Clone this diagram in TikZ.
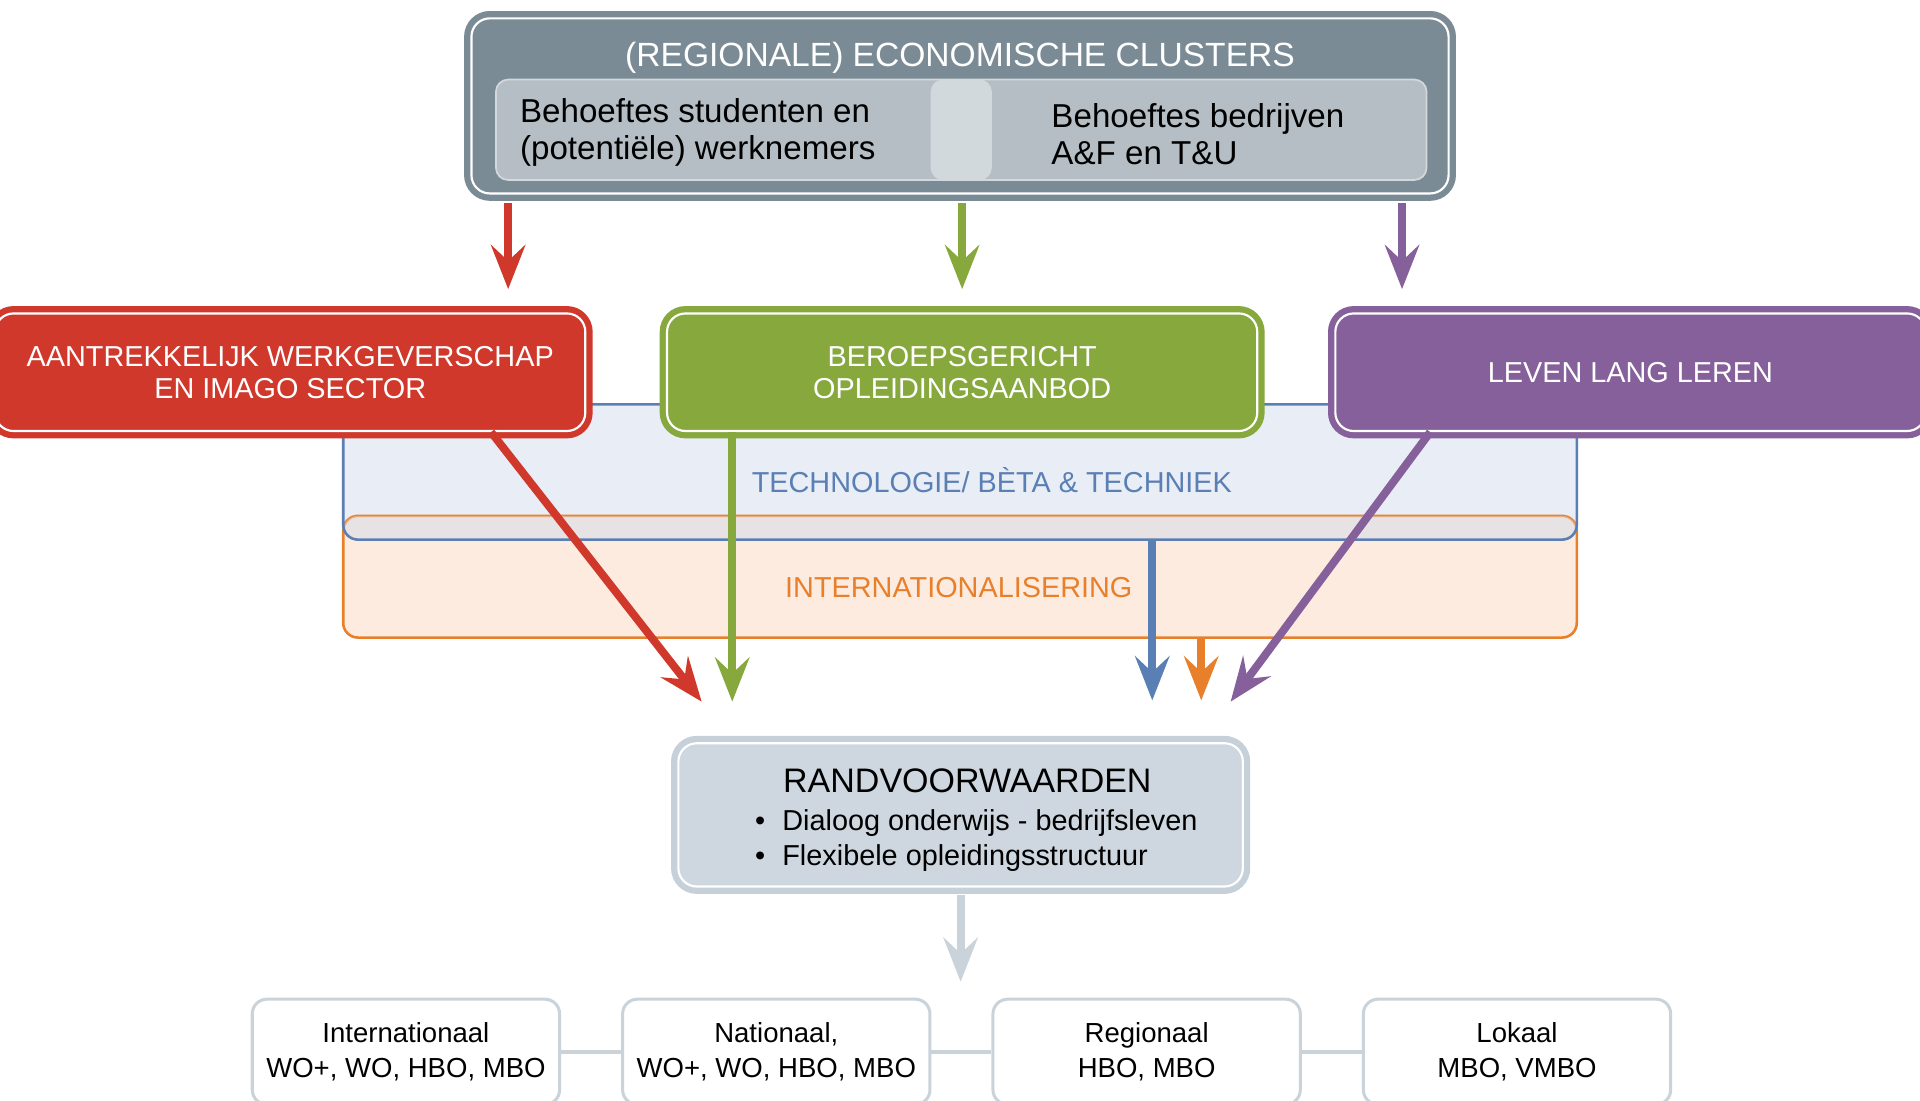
\documentclass[tikz,border=0pt]{standalone}
\usepackage{fontspec}
\setmainfont{Liberation Sans}
\usepackage{tikz}
\usetikzlibrary{shapes,arrows.meta,positioning,calc}

\definecolor{clustergrijs}{HTML}{7B8B95}
\definecolor{paneelgrijs}{HTML}{B4BEC4}
\definecolor{paneellicht}{HTML}{D2D9DD}
\definecolor{rood}{HTML}{D0382B}
\definecolor{groen}{HTML}{86A83C}
\definecolor{paars}{HTML}{86609A}
\definecolor{blauw}{HTML}{5A7FB5}
\definecolor{blauwvlak}{HTML}{E9EDF5}
\definecolor{oranje}{HTML}{E8802B}
\definecolor{oranjevlak}{HTML}{FDEBE0}
\definecolor{overlapvlak}{HTML}{E7E2E3}
\definecolor{randgrijs}{HTML}{C6D0D8}
\definecolor{randvlak}{HTML}{CED7DF}
\definecolor{lijngrijs}{HTML}{CAD3DA}

\begin{document}
\begin{tikzpicture}[
    blok/.style={fill=#1, preaction={draw=#1, line width=0.12cm}, draw=white, line width=0.5pt,
        rounded corners=0.15cm, inner sep=0pt, align=center, text=white},
    kop/.style={font=\fontsize{6.7}{7.4}\selectfont},
    band/.style={rounded corners=0.12cm, minimum width=10.06cm, inner sep=0pt},
    pijl/.style={line width=0.065cm, -{Stealth[length=0.36cm, width=0.28cm, inset=0.13cm]}},
    niveau/.style={draw=lijngrijs, line width=0.7pt, fill=white, rounded corners=0.12cm,
        minimum width=2.51cm, minimum height=0.86cm, inner sep=0pt, align=center,
        font=\fontsize{6.4}{8}\selectfont}
]
\useasboundingbox (0,0) rectangle (15.68,-8.99);

% banden achter de blokken
\node[band, fill=blauwvlak, minimum height=1.09cm] (tb) at (7.84,-3.855) {};
\node[band, fill=oranjevlak, minimum height=0.98cm] (int) at (7.84,-4.71) {};
\fill[overlapvlak, rounded corners=0.12cm] (int.north west) rectangle (tb.south east);
\draw[oranje, line width=0.6pt, rounded corners=0.12cm] (int.south west) rectangle (int.north east);
\fill[overlapvlak, opacity=0.45, rounded corners=0.12cm] (int.north west) rectangle (tb.south east);
\draw[blauw, line width=0.6pt, rounded corners=0.12cm] (tb.south west) rectangle (tb.north east);
\node[text=blauw, kop] (tbtekst) at (8.10,-3.92) {TECHNOLOGIE/ BÈTA \& TECHNIEK};
\node[text=oranje, kop] (inttekst) at (7.83,-4.80) {INTERNATIONALISERING};

% clusters
\node[blok=clustergrijs, minimum width=7.98cm, minimum height=1.43cm] (clusters) at (7.84,-0.865) {};
\node[fill=paneelgrijs, draw=paneelgrijs!60!white, rounded corners=0.1cm, inner sep=0pt,
    minimum width=7.60cm, minimum height=0.82cm] (paneel) at (7.85,-1.06) {};
\node[fill=paneellicht, rounded corners=0.1cm, inner sep=0pt,
    minimum width=0.50cm, minimum height=0.82cm] (midden) at (paneel.center) {};
\node[text=white, font=\fontsize{7.8}{9}\selectfont] (clustertitel) at (7.84,-0.47) {(REGIONALE) ECONOMISCHE CLUSTERS};
\node[anchor=west, align=left, inner sep=0pt, font=\fontsize{7.7}{8.7}\selectfont] (studenten) at (4.24,-1.08)
    {Behoeftes studenten en\\(potentiële) werknemers};
\node[anchor=west, align=left, inner sep=0pt, font=\fontsize{7.7}{8.7}\selectfont] (bedrijven) at (8.58,-1.095)
    {Behoeftes bedrijven\\A\&F en T\&U};

% thema's
\node[blok=rood, kop, minimum width=4.82cm, minimum height=0.96cm] (aw) at (2.37,-3.04)
    {AANTREKKELIJK WERKGEVERSCHAP\\EN IMAGO SECTOR};
\node[blok=groen, kop, minimum width=4.82cm, minimum height=0.96cm, right=0.65cm of aw] (bo)
    {BEROEPSGERICHT\\OPLEIDINGSAANBOD};
\node[blok=paars, kop, minimum width=4.82cm, minimum height=0.96cm, right=0.62cm of bo] (lll)
    {LEVEN LANG LEREN};

% randvoorwaarden
\node[blok=randgrijs, fill=randvlak, minimum width=4.61cm, minimum height=1.17cm] (rv) at (7.845,-6.655) {};
\node[font=\fontsize{7.9}{9}\selectfont] (rvtitel) at (7.90,-6.38) {RANDVOORWAARDEN};
\node[anchor=west, align=left, inner sep=0pt, font=\fontsize{6.7}{8.2}\selectfont] (rvlijst) at (6.16,-6.865)
    {\textbullet\hspace{0.14cm}Dialoog onderwijs - bedrijfsleven\\\textbullet\hspace{0.14cm}Flexibele opleidingsstructuur};

% niveaus
\node[niveau] (internationaal) at (3.315,-8.59) {Internationaal\\WO+, WO, HBO, MBO};
\node[niveau, right=0.49cm of internationaal] (nationaal) {Nationaal,\\WO+, WO, HBO, MBO};
\node[niveau, right=0.49cm of nationaal] (regionaal) {Regionaal\\HBO, MBO};
\node[niveau, right=0.49cm of regionaal] (lokaal) {Lokaal\\MBO, VMBO};
\draw[lijngrijs, line width=0.03cm] (internationaal) -- (nationaal);
\draw[lijngrijs, line width=0.03cm] (nationaal) -- (regionaal);
\draw[lijngrijs, line width=0.03cm] (regionaal) -- (lokaal);

% pijlen
\coordinate (xrood) at (4.15,0);
\coordinate (xpaars) at (11.45,0);
\coordinate (srood) at (4.01,0);
\coordinate (spaars) at (11.68,0);
\coordinate (prood) at (5.73,-5.73);
\coordinate (pgroen) at (5.98,-5.73);
\coordinate (pblauw) at (9.41,-5.72);
\coordinate (poranje) at (9.81,-5.72);
\coordinate (ppaars) at (10.05,-5.73);

\draw[pijl, rood, shorten <=0.07cm, shorten >=0.19cm] (clusters.south -| xrood) -- (aw.north -| xrood);
\draw[pijl, groen, shorten <=0.07cm, shorten >=0.19cm] (clusters.south -| bo.north) -- (bo.north);
\draw[pijl, paars, shorten <=0.07cm, shorten >=0.19cm] (clusters.south -| xpaars) -- (lll.north -| xpaars);

\draw[pijl, rood] (aw.south -| srood) -- (prood);
\draw[pijl, groen] (bo.south -| pgroen) -- (pgroen);
\draw[pijl, blauw] (tb.south -| pblauw) -- (pblauw);
\draw[pijl, oranje] (int.south -| poranje) -- (poranje);
\draw[pijl, paars] (lll.south -| spaars) -- (ppaars);

\draw[pijl, lijngrijs, shorten <=0.06cm, shorten >=0.13cm] (rv.south) -- (rv.south |- nationaal.north);
\end{tikzpicture}
\end{document}
